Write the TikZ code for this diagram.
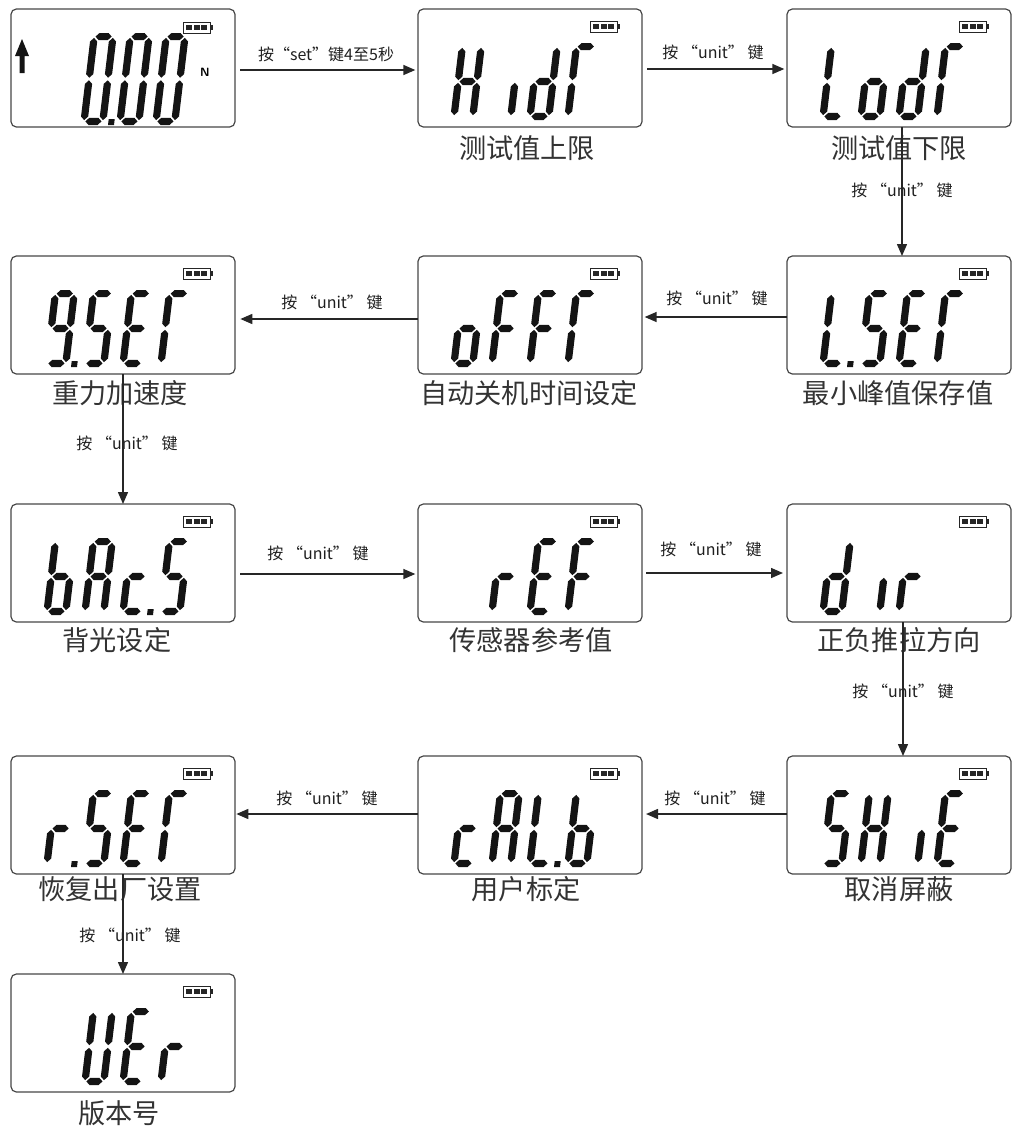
\documentclass[tikz,border=0pt]{standalone}
\usepackage{fontspec}
\newfontfamily\cjk{Noto Sans CJK SC}
\usetikzlibrary{arrows.meta,calc}

\newcommand\lcdW{26}
\newcommand\lcdt{3.6}
\newcommand\lcdg{1.3}
\newcommand\lcdhseg[1]{\fill[seg] ({\lcdt+\lcdg},{#1}) -- ({2*\lcdt+\lcdg},{#1+\lcdt}) -- ({\lcdW-2*\lcdt-\lcdg},{#1+\lcdt}) -- ({\lcdW-\lcdt-\lcdg},{#1}) -- ({\lcdW-2*\lcdt-\lcdg},{#1-\lcdt}) -- ({2*\lcdt+\lcdg},{#1-\lcdt}) -- cycle;}
\newcommand\lcdvseg[3]{\fill[seg] ({#1},{#3-\lcdg}) -- ({#1+\lcdt},{#3-\lcdt-\lcdg}) -- ({#1+\lcdt},{#2+\lcdt+\lcdg}) -- ({#1},{#2+\lcdg}) -- ({#1-\lcdt},{#2+\lcdt+\lcdg}) -- ({#1-\lcdt},{#3-\lcdt-\lcdg}) -- cycle;}
\newcommand\lcdsega{\lcdhseg{\lcdH-\lcdt}}
\newcommand\lcdsegg{\lcdhseg{\lcdH/2}}
\newcommand\lcdsegd{\lcdhseg{\lcdt}}
\newcommand\lcdsegf{\lcdvseg{\lcdt}{\lcdH/2}{\lcdH-\lcdt}}
\newcommand\lcdsege{\lcdvseg{\lcdt}{\lcdt}{\lcdH/2}}
\newcommand\lcdsegb{\lcdvseg{\lcdW-\lcdt}{\lcdH/2}{\lcdH-\lcdt}}
\newcommand\lcdsegc{\lcdvseg{\lcdW-\lcdt}{\lcdt}{\lcdH/2}}
\newcommand\lcdsegp{\fill[seg] ({\lcdW+2},0) rectangle ++(6,6);}

% #1 x, #2 baseline y (px), #3 height, #4 segment list
\newcommand\lcddigit[4]{\begin{scope}[shift={(#1,#2)},x=0.75pt,y=0.75pt,xslant=0.12]\def\lcdH{#3}\foreach \s in {#4}{\csname lcdseg\s\endcsname}\end{scope}}
\newcommand\dg[3]{\lcddigit{#1}{#2}{77}{#3}}

% battery icon, top-left corner in px
\newcommand\battery[2]{\begin{scope}[shift={(#1,#2)}]
 \draw[line width=0.7pt,draw=black!85] (0,0) rectangle (27,11);
 \fill[black!85] (27,3) rectangle (29.5,8);
 \fill[black!85] (3,3) rectangle (9,8);
 \fill[black!85] (10.5,3) rectangle (16.5,8);
 \fill[black!85] (18,3) rectangle (24,8);
\end{scope}}

\tikzset{
 seg/.style={fill=black!92},
 lcdbox/.style={draw=black!72, line width=0.9pt, rounded corners=4pt, minimum width=168pt, minimum height=88.5pt, inner sep=0pt, outer sep=0pt},
 boxlabel/.style={font=\cjk\fontsize{20.4}{24}\selectfont, text=black!80, inner sep=0pt},
 keylabel/.style={font=\cjk\fontsize{12}{14}\selectfont, text=black!88, inner sep=0pt},
 arr/.style={draw=black!85, line width=1.1pt, -{Triangle[length=9pt,width=7.5pt]}},
}

\begin{document}
\begin{tikzpicture}[x=0.75pt,y=-0.75pt]
\useasboundingbox (0,0) rectangle (1013,1133);

% boxes
\node[lcdbox] (b1) at (123,68) {};
\node[lcdbox] (b2) at (530,68) {};
\node[lcdbox] (b3) at (899,68) {};
\node[lcdbox] (b4) at (123,315) {};
\node[lcdbox] (b5) at (530,315) {};
\node[lcdbox] (b6) at (899,315) {};
\node[lcdbox] (b7) at (123,563) {};
\node[lcdbox] (b8) at (530,563) {};
\node[lcdbox] (b9) at (899,563) {};
\node[lcdbox] (b10) at (123,815) {};
\node[lcdbox] (b11) at (530,815) {};
\node[lcdbox] (b12) at (899,815) {};
\node[lcdbox] (b13) at (123,1033) {};

% batteries
\foreach \bx/\by in {183/22,590/21,959/21,183/268,590/268,959/268,183/516,590/516,959/516,183/768,590/768,959/768,183/986}{\battery{\bx}{\by}}

% box 1: up arrow, 0.00 N
\fill[black!92] (15,56) -- (22,39) -- (29,56) -- (24.5,56) -- (24.5,73) -- (19.5,73) -- (19.5,56) -- cycle;
\lcddigit{80}{125}{92}{a,b,c,d,e,f,p}
\lcddigit{116}{125}{92}{a,b,c,d,e,f}
\lcddigit{152}{125}{92}{a,b,c,d,e,f}
\node[font=\sffamily\bfseries\fontsize{9}{10}\selectfont, inner sep=0pt] (nN) at (205,72) {N};

% box 2: HidT
\dg{450}{120}{b,c,e,f,g}
\dg{488}{120}{c}
\dg{526}{120}{b,c,d,e,g}
\dg{564}{120}{a,e,f}
% box 3: LodT
\dg{819}{120}{d,e,f}
\dg{857}{120}{c,d,e,g}
\dg{895}{120}{b,c,d,e,g}
\dg{933}{120}{a,e,f}
% box 4: 9.SET
\dg{43}{367}{a,b,c,d,f,g,p}
\dg{81}{367}{a,c,d,f,g}
\dg{119}{367}{a,d,e,f,g}
\dg{157}{367}{a,e,f}
% box 5: oFFT
\dg{450}{367}{c,d,e,g}
\dg{488}{367}{a,e,f,g}
\dg{526}{367}{a,e,f,g}
\dg{564}{367}{a,e,f}
% box 6: L.SET
\dg{819}{367}{d,e,f,p}
\dg{857}{367}{a,c,d,f,g}
\dg{895}{367}{a,d,e,f,g}
\dg{933}{367}{a,e,f}
% box 7: bAc.S
\dg{43}{615}{c,d,e,f,g}
\dg{81}{615}{a,b,c,e,f,g}
\dg{119}{615}{d,e,g,p}
\dg{157}{615}{a,c,d,f,g}
% box 8: rEF
\dg{488}{615}{e,g}
\dg{526}{615}{a,d,e,f,g}
\dg{564}{615}{a,e,f,g}
% box 9: dir
\dg{819}{615}{b,c,d,e,g}
\dg{857}{615}{c}
\dg{895}{615}{e,g}
% box 10: r.SET
\dg{43}{867}{e,g,p}
\dg{81}{867}{a,c,d,f,g}
\dg{119}{867}{a,d,e,f,g}
\dg{157}{867}{a,e,f}
% box 11: cAL.b
\dg{450}{867}{d,e,g}
\dg{488}{867}{a,b,c,e,f,g}
\dg{526}{867}{d,e,f,p}
\dg{564}{867}{c,d,e,f,g}
% box 12: SHiE
\dg{819}{867}{a,c,d,f,g}
\dg{857}{867}{b,c,e,f,g}
\dg{895}{867}{c}
\dg{933}{867}{a,d,e,f,g}
% box 13: UEr
\dg{81}{1085}{b,c,d,e,f}
\dg{119}{1085}{a,d,e,f,g}
\dg{157}{1085}{e,g}

% captions
\node[boxlabel] (c2) at (527,148) {测试值上限};
\node[boxlabel] (c3) at (899,148) {测试值下限};
\node[boxlabel] (c4) at (120,393) {重力加速度};
\node[boxlabel] (c5) at (529,393) {自动关机时间设定};
\node[boxlabel] (c6) at (898,393) {最小峰值保存值};
\node[boxlabel] (c7) at (117,640) {背光设定};
\node[boxlabel] (c8) at (531,640) {传感器参考值};
\node[boxlabel] (c9) at (899,640) {正负推拉方向};
\node[boxlabel] (c10) at (120,889) {恢复出厂设置};
\node[boxlabel] (c11) at (526,889) {用户标定};
\node[boxlabel] (c12) at (899,889) {取消屏蔽};
\node[boxlabel] (c13) at (119,1113) {版本号};

% key labels
\node[keylabel] (k1) at (326,54) {按“set”键4至5秒};
\node[keylabel] (k2) at (713,52) {按 “unit” 键};
\node[keylabel] (k3) at (902,190) {按 “unit” 键};
\node[keylabel] (k4) at (717,298) {按 “unit” 键};
\node[keylabel] (k5) at (332,302) {按 “unit” 键};
\node[keylabel] (k6) at (127,443) {按 “unit” 键};
\node[keylabel] (k7) at (318,553) {按 “unit” 键};
\node[keylabel] (k8) at (711,549) {按 “unit” 键};
\node[keylabel] (k9) at (903,691) {按 “unit” 键};
\node[keylabel] (k10) at (715,798) {按 “unit” 键};
\node[keylabel] (k11) at (327,798) {按 “unit” 键};
\node[keylabel] (k12) at (130,935) {按 “unit” 键};

% connectors
\draw[arr, shorten <=4pt, shorten >=2pt] ($(b1.east)+(0,2)$) -- ($(b2.west)+(0,2)$);
\draw[arr, shorten <=4pt, shorten >=2pt] ($(b2.east)+(0,1)$) -- ($(b3.west)+(0,1)$);
\draw[arr] ($(b3.south)+(3,0)$) -- ($(b6.north)+(3,0)$);
\draw[arr, shorten >=2pt] ($(b6.west)+(0,2)$) -- ($(b5.east)+(0,2)$);
\draw[arr, shorten >=4pt] ($(b5.west)+(0,4)$) -- ($(b4.east)+(0,4)$);
\draw[arr] (b4.south) -- (b7.north);
\draw[arr, shorten <=4pt, shorten >=2pt] ($(b7.east)+(0,11)$) -- ($(b8.west)+(0,11)$);
\draw[arr, shorten <=3pt, shorten >=3pt] ($(b8.east)+(0,10)$) -- ($(b9.west)+(0,10)$);
\draw[arr] ($(b9.south)+(4,0)$) -- ($(b12.north)+(4,0)$);
\draw[arr, shorten >=3pt] ($(b12.west)+(0,-1)$) -- ($(b11.east)+(0,-1)$);
\draw[arr, shorten >=1pt] ($(b11.west)+(0,-1)$) -- ($(b10.east)+(0,-1)$);
\draw[arr] (b10.south) -- (b13.north);
\end{tikzpicture}
\end{document}
